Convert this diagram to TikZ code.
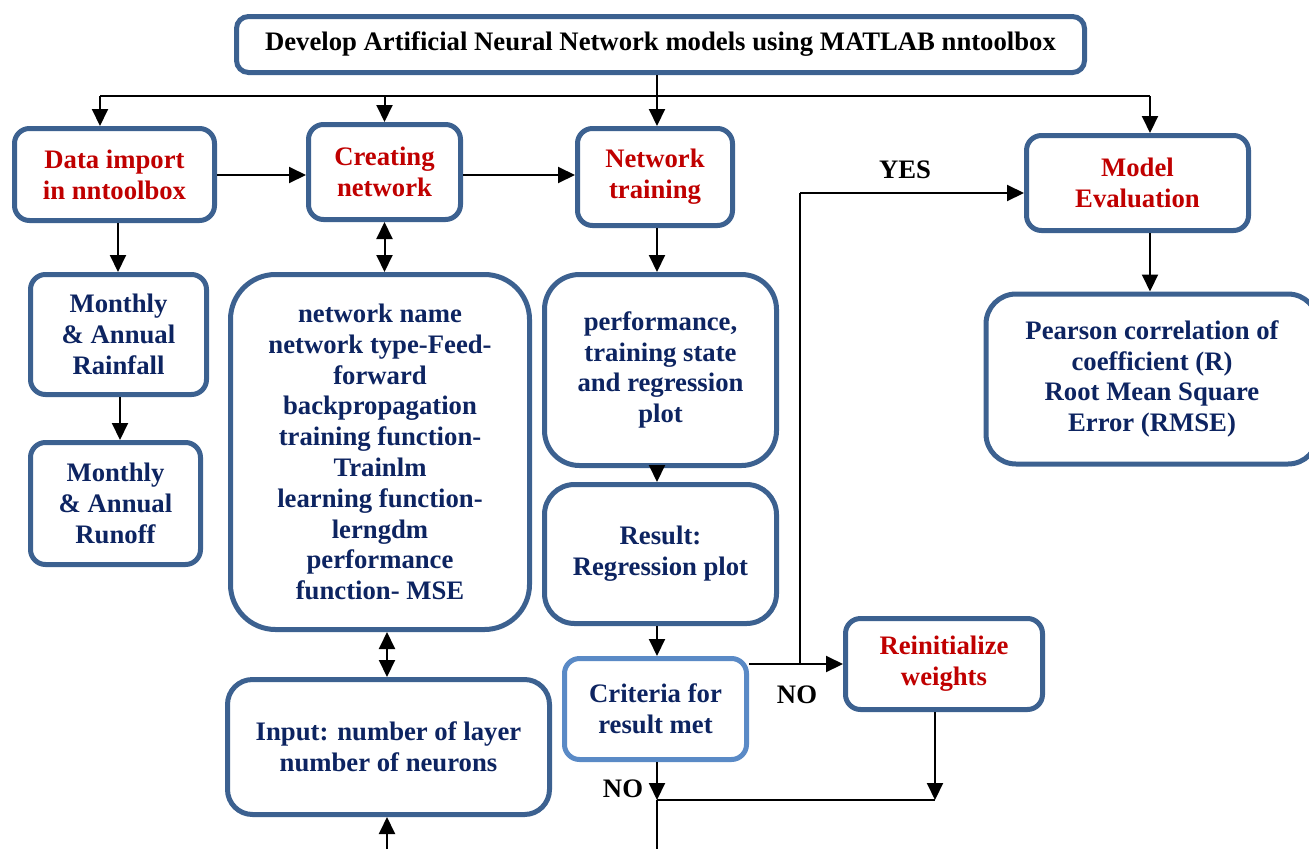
\documentclass[tikz,border=0pt]{standalone}
\usepackage{fontspec}
\setmainfont{Liberation Serif}
\usetikzlibrary{arrows.meta}
\definecolor{bord}{HTML}{3C6190}
\definecolor{lbord}{HTML}{5A8AC6}
\definecolor{tred}{HTML}{C00000}
\definecolor{tnavy}{HTML}{0D2461}
\tikzset{
  box/.style={draw=bord, line width=5pt, rounded corners=15pt, fill=white, align=center, inner sep=0pt,
    font=\fontsize{26.7}{30.8}\selectfont\bfseries},
  redbox/.style={box, text=tred},
  bluebox/.style={box, text=tnavy},
  arr/.style={line width=2pt, -{Triangle[length=17pt,width=16pt]}},
  darr/.style={line width=2pt, {Triangle[length=17pt,width=16pt]}-{Triangle[length=17pt,width=16pt]}},
  ln/.style={line width=2pt},
  lbl/.style={font=\fontsize{26.7}{30.8}\selectfont\bfseries, text=black, inner sep=0pt}
}
\begin{document}
\begin{tikzpicture}[x=1pt,y=-1pt]
\useasboundingbox (0,0) rectangle (1309,849);
\clip (0,0) rectangle (1309,849);
\fill[white] (0,0) rectangle (1309,849);
% nodes
\node[box, rounded corners=12pt, minimum width=848pt, minimum height=56pt] (top) at (660.5,44.5) {\raisebox{-3pt}{Develop Artificial Neural Network models using MATLAB nntoolbox}};
\node[redbox, minimum width=200pt, minimum height=92pt] (data) at (114.5,174.5) {Data import\\in nntoolbox};
\node[redbox, minimum width=152pt, minimum height=95pt] (create) at (384.5,172) {Creating\\network};
\node[redbox, minimum width=155pt, minimum height=97pt] (train) at (655,177) {Network\\training};
\node[redbox, minimum width=222pt, minimum height=95pt] (meval) at (1137.5,183) {Model\\Evaluation};
\node[bluebox, minimum width=176pt, minimum height=120pt] (rain) at (118.5,334.5) {Monthly\\\& Annual\\Rainfall};
\node[bluebox, minimum width=170pt, minimum height=122pt] (runoff) at (115.5,503.5) {Monthly\\\& Annual\\Runoff};
\node[bluebox, rounded corners=45pt, minimum width=299pt, minimum height=355pt] (params) at (380,452) {network name\\network type-Feed-\\forward\\backpropagation\\training function-\\Trainlm\\learning function-\\lerngdm\\performance\\function- MSE};
\node[bluebox, rounded corners=35pt, minimum width=232pt, minimum height=191pt] (perf) at (660.5,370) {performance,\\training state\\and regression\\plot};
\node[bluebox, rounded corners=30pt, minimum width=232pt, minimum height=139pt] (result) at (660.5,554) {Result:\\Regression plot};
\node[bluebox, draw=lbord, minimum width=182pt, minimum height=101pt] (crit) at (655.5,709) {Criteria for\\result met};
\node[redbox, minimum width=197pt, minimum height=91pt] (reinit) at (944,664) {Reinitialize\\weights};
\node[bluebox, rounded corners=30pt, minimum width=332pt, minimum height=170pt] (pear) at (1152,379) {Pearson correlation of\\coefficient (R)\\Root Mean Square\\Error (RMSE)};
\node[bluebox, rounded corners=25pt, minimum width=322pt, minimum height=135pt] (input) at (388.5,747) {Input: number of layer\\number of neurons};
% labels
\node[lbl] (yes) at (905,170) {YES};
\node[lbl] (no1) at (797,695) {NO};
\node[lbl] (no2) at (623,789) {NO};
% coordinates
\coordinate (bus) at (657,96);
\coordinate (busl) at (100,96);
\coordinate (busr) at (1150,96);
\coordinate (ys) at (800,664);
\coordinate (yc) at (800,193);
\coordinate (m) at (657,800);
\coordinate (mr) at (935,800);
\coordinate (bot) at (657,849);
\coordinate (ib) at (387,849);
% connectors
\draw[arr] (top.south -| bus) -- (train.north -| bus);
\draw[ln] (busl) -- (busr);
\draw[arr] (busl) -- (data.north -| busl);
\draw[arr] (bus -| create.north) -- (create.north);
\draw[arr] (busr) -- (meval.north -| busr);
\draw[arr] (data.east |- 0,175) -- (create.west |- 0,175);
\draw[arr] (create.east |- 0,175) -- (train.west |- 0,175);
\draw[arr] (data.south -| 118,0) -- (rain.north -| 118,0);
\draw[arr] (rain.south -| 120,0) -- (runoff.north -| 120,0);
\draw[darr] (create.south) -- (params.north -| create.south);
\draw[darr] (params.south -| 387,0) -- (input.north -| 387,0);
\draw[arr] (ib) -- (input.south -| ib);
\draw[arr] (train.south -| bus) -- (perf.north -| bus);
\draw[arr] (perf.south -| bus) -- (result.north -| bus);
\draw[arr] (result.south -| bus) -- (crit.north -| bus);
\draw[arr] (reinit.west -| crit.east) -- (reinit.west);
\draw[ln] (ys) -- (yc);
\draw[arr] (yc) -- (yc -| meval.west);
\draw[arr] (meval.south -| busr) -- (pear.north -| busr);
\draw[arr] (crit.south -| m) -- (m);
\draw[ln] (m) -- (bot);
\draw[ln] (m) -- (mr);
\draw[arr] (reinit.south -| mr) -- (mr);
\end{tikzpicture}
\end{document}
